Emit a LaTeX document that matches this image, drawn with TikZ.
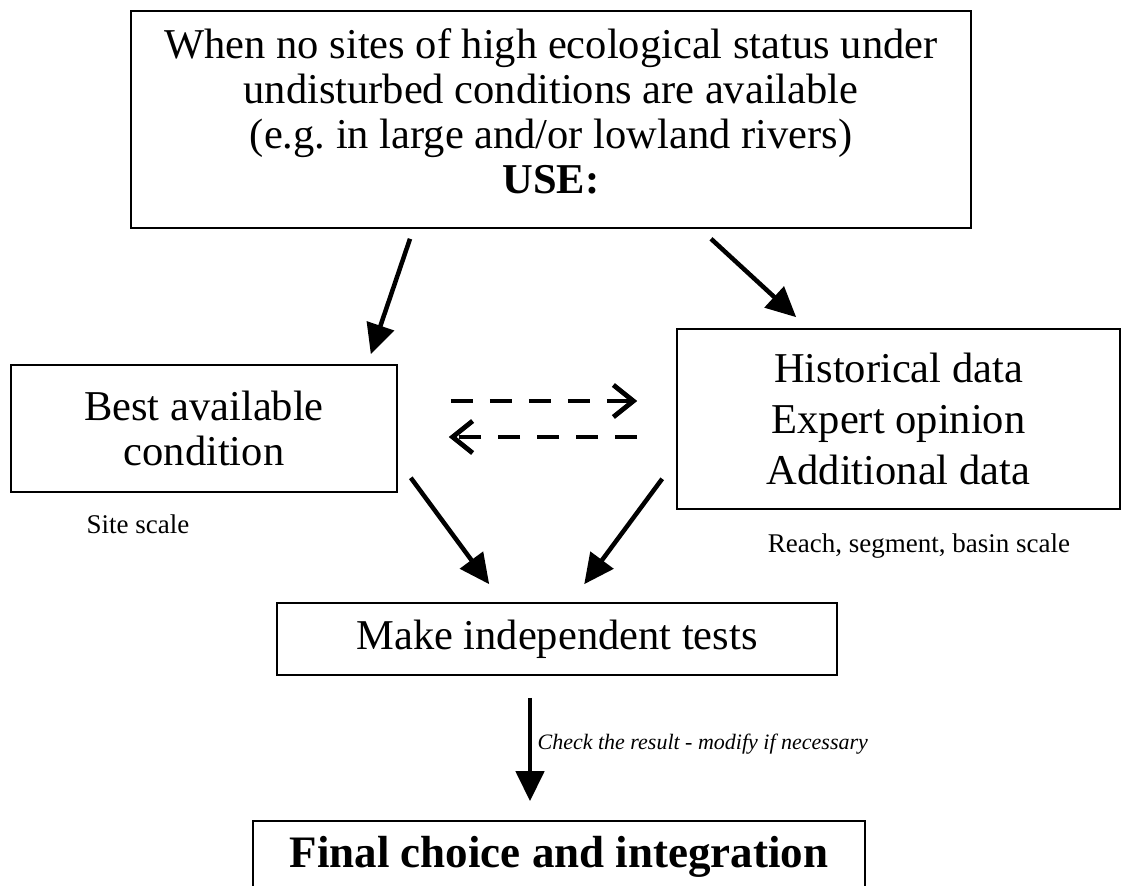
\documentclass[tikz,border=0pt]{standalone}
\usepackage{fontspec}
\setmainfont{Liberation Serif}
\usetikzlibrary{arrows.meta,positioning}

\tikzset{
  box/.style={draw, line width=1.6pt, align=center, inner sep=0pt},
  bigtext/.style={font=\fontsize{42.5}{48}\selectfont},
  smalltext/.style={font=\fontsize{27}{31}\selectfont},
  fat/.style={line width=4.5pt, -{Triangle[length=30pt,width=28pt]}},
  backforth/.style={line width=4.8pt, dash pattern=on 22pt off 17pt,
    -{Straight Barb[length=20pt,width=32pt]}}
}

\begin{document}
\begin{tikzpicture}[x=1pt,y=-1pt]
      \useasboundingbox (0,0) rectangle (1122,886);
      \node (cond) [box, font=\fontsize{42.5}{45}\selectfont, text depth=16pt,
        minimum width=840pt, minimum height=217pt] at (551,119.5)
        {When no sites of high ecological status under\\
         undisturbed conditions are available\\
         (e.g.\ in large and/or lowland rivers)\\
         \textbf{USE:}};
      \node (best) [box, font=\fontsize{42.5}{45}\selectfont,
        minimum width=386pt, minimum height=127pt] at (204,428.5)
        {Best available\\ condition};
      \node (hist) [box, font=\fontsize{42.5}{51}\selectfont,
        minimum width=443pt, minimum height=180pt] at (898.5,419)
        {Historical data\\ Expert opinion\\ Additional data};
      \node (tests) [box, bigtext, minimum width=560pt, minimum height=72pt] at (557,639)
        {Make independent tests};
      \node (final) [box, font=\fontsize{45}{50}\selectfont\bfseries,
        minimum width=612pt, minimum height=72pt] at (559,857)
        {Final choice and integration};
      \node (site) [smalltext] at ([xshift=-66pt,yshift=-31pt]best.south) {Site scale};
      \node (reach) [smalltext] at ([xshift=20.5pt,yshift=-36pt]hist.south)
        {Reach, segment, basin scale};
      \draw[fat] ([xshift=-141pt,yshift=-10pt]cond.south) -- ([xshift=-27pt,yshift=10pt]best.north east);
      \draw[fat] ([xshift=160pt,yshift=-10pt]cond.south) -- ([xshift=120pt,yshift=11pt]hist.north west);
      \draw[backforth] ([xshift=53pt,yshift=27.5pt]best.east) -- ([xshift=-39pt,yshift=18pt]hist.west);
      \draw[backforth] ([xshift=-39pt,yshift=-18pt]hist.west) -- ([xshift=51pt,yshift=-8.5pt]best.east);
      \draw[fat] ([xshift=13pt,yshift=15pt]best.south east) -- ([xshift=213pt,yshift=18pt]tests.north west);
      \draw[fat] ([xshift=-14pt,yshift=31pt]hist.south west) -- ([xshift=308pt,yshift=18pt]tests.north west);
      \draw[fat] ([xshift=-27pt,yshift=-22pt]tests.south) -- ([xshift=-29pt,yshift=19pt]final.north)
        node[pos=0.45, right, xshift=2pt, font=\fontsize{22}{26}\selectfont\itshape]
        {Check the result - modify if necessary};
    \end{tikzpicture}
\end{document}
